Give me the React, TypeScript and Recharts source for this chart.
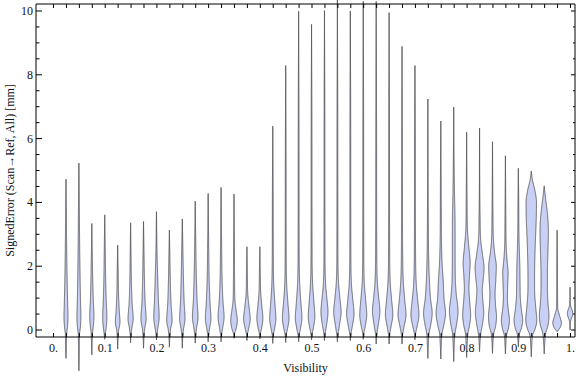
import React from 'react';
import { ComposedChart, Bar, XAxis, YAxis } from 'recharts';

const positions = [
  0.025, 0.05, 0.075, 0.1, 0.125, 0.15, 0.175, 0.2, 0.225, 0.25,
  0.275, 0.3, 0.325, 0.35, 0.375, 0.4, 0.425, 0.45, 0.475, 0.5,
  0.525, 0.55, 0.575, 0.6, 0.625, 0.65, 0.675, 0.7, 0.725, 0.75,
  0.775, 0.8, 0.825, 0.85, 0.875, 0.9, 0.925, 0.95, 0.975, 1.0,
];
const lows = [
  -0.89, -1.28, -0.78, -0.29, -0.6, -0.4, -0.57, -0.31, -0.54, -0.57,
  -0.41, -0.37, -0.37, -0.26, -0.33, -0.28, -0.42, -0.39, -0.37, -0.31,
  -0.33, -0.37, -0.33, -0.29, -0.44, -0.44, -0.44, -0.31, -0.89, -0.91,
  -0.99, -0.86, -0.68, -0.73, -0.75, -0.52, -0.84, -0.75, -0.05, 0.0,
];
const highs = [
  4.73, 5.23, 3.34, 3.61, 2.66, 3.36, 3.4, 3.71, 3.13, 3.48,
  4.04, 4.28, 4.47, 4.26, 2.61, 2.61, 6.39, 8.29, 9.99, 9.58,
  10.01, 10.4, 10.0, 10.3, 10.3, 9.95, 8.89, 8.29, 7.24, 6.55,
  6.99, 6.2, 6.33, 5.9, 5.46, 5.07, 4.98, 4.52, 3.13, 1.34,
];
const densityProfiles: number[][][] = [
  [[-0.6, 0.35], [-0.15, 0.6], [0.1, 1.5], [0.4, 2.0], [0.8, 1.7], [1.5, 1.2], [2.5, 0.7], [3.5, 0.4]],
  [[-0.8, 0.35], [-0.15, 0.6], [0.1, 1.5], [0.4, 2.0], [0.9, 1.6], [1.8, 1.1], [2.8, 0.7], [4.0, 0.4]],
  [[-0.4, 0.35], [-0.1, 0.7], [0.15, 1.6], [0.45, 2.1], [0.9, 1.5], [1.6, 0.9], [2.3, 0.5]],
  [[-0.12, 0.6], [0.15, 1.7], [0.4, 2.1], [0.9, 1.5], [1.6, 0.9], [2.5, 0.5]],
  [[-0.3, 0.35], [-0.05, 0.8], [0.25, 2.3], [0.6, 1.6], [1.2, 0.8], [1.9, 0.45]],
  [[-0.15, 0.4], [0.05, 1.2], [0.35, 2.6], [0.8, 1.6], [1.5, 0.8], [2.3, 0.45]],
  [[-0.25, 0.4], [0.0, 1.0], [0.35, 2.6], [0.8, 1.7], [1.6, 0.9], [2.4, 0.5]],
  [[-0.1, 0.6], [0.1, 1.6], [0.4, 2.7], [0.9, 2.0], [1.6, 1.3], [2.4, 0.6]],
  [[-0.25, 0.4], [0.0, 1.1], [0.3, 2.7], [0.8, 1.7], [1.6, 0.9], [2.3, 0.5]],
  [[-0.25, 0.4], [0.0, 1.1], [0.35, 2.7], [0.9, 1.8], [1.7, 1.1], [2.5, 0.6]],
  [[-0.15, 0.5], [0.05, 1.3], [0.4, 2.8], [0.9, 1.9], [1.7, 1.1], [2.6, 0.6]],
  [[-0.15, 0.5], [0.05, 1.4], [0.35, 2.8], [0.85, 1.9], [1.6, 1.0], [2.6, 0.55]],
  [[-0.15, 0.5], [0.05, 1.5], [0.4, 3.0], [0.9, 1.9], [1.6, 1.0], [2.7, 0.55]],
  [[-0.1, 0.7], [0.05, 2.2], [0.3, 3.3], [0.6, 2.2], [0.9, 1.0], [1.5, 0.6], [2.5, 0.45]],
  [[-0.12, 0.6], [0.05, 1.8], [0.35, 3.3], [0.7, 2.2], [1.1, 0.9], [1.8, 0.45]],
  [[-0.1, 0.6], [0.05, 1.7], [0.37, 3.0], [0.75, 2.0], [1.15, 0.9], [1.8, 0.45]],
  [[-0.15, 0.6], [0.05, 1.8], [0.35, 3.1], [0.8, 2.2], [1.4, 1.0], [2.5, 0.5], [4.0, 0.4]],
  [[-0.15, 0.6], [0.05, 1.9], [0.37, 3.3], [0.85, 2.2], [1.4, 1.0], [2.5, 0.5], [5.0, 0.4]],
  [[-0.15, 0.6], [0.05, 1.9], [0.38, 3.3], [0.85, 2.3], [1.5, 1.0], [2.6, 0.5], [6.0, 0.4]],
  [[-0.12, 0.6], [0.08, 1.9], [0.42, 3.3], [0.9, 2.3], [1.5, 1.0], [2.6, 0.5], [6.0, 0.4]],
  [[-0.12, 0.6], [0.1, 1.8], [0.57, 3.5], [1.0, 2.4], [1.4, 1.2], [2.5, 0.5], [6.0, 0.4]],
  [[-0.15, 0.6], [0.1, 1.8], [0.57, 3.7], [1.0, 2.5], [1.5, 1.1], [2.6, 0.5], [6.0, 0.4]],
  [[-0.12, 0.6], [0.1, 1.9], [0.5, 3.7], [0.95, 2.5], [1.45, 1.1], [2.6, 0.5], [6.0, 0.4]],
  [[-0.1, 0.6], [0.1, 1.9], [0.47, 3.5], [0.95, 2.4], [1.45, 1.1], [2.6, 0.5], [6.0, 0.4]],
  [[-0.15, 0.6], [0.1, 1.8], [0.6, 3.7], [1.05, 2.4], [1.5, 1.2], [2.6, 0.55], [6.0, 0.4]],
  [[-0.15, 0.6], [0.1, 1.9], [0.47, 3.7], [0.95, 2.5], [1.45, 1.2], [2.6, 0.55], [6.0, 0.4]],
  [[-0.15, 0.6], [0.1, 2.0], [0.47, 4.0], [0.95, 2.7], [1.5, 1.3], [2.6, 0.6], [5.5, 0.4]],
  [[-0.1, 0.7], [0.1, 2.1], [0.47, 4.0], [0.95, 2.7], [1.4, 1.4], [2.5, 0.6], [5.5, 0.4]],
  [[-0.5, 0.45], [-0.1, 1.2], [0.15, 2.8], [0.52, 4.3], [1.0, 2.6], [1.57, 1.5], [2.3, 0.8], [3.5, 0.45]],
  [[-0.5, 0.45], [-0.1, 1.3], [0.15, 3.0], [0.52, 4.7], [1.0, 3.2], [1.56, 2.4], [2.1, 1.3], [3.0, 0.6], [4.5, 0.4]],
  [[-0.55, 0.45], [-0.1, 1.3], [0.2, 3.0], [0.6, 4.3], [1.1, 2.6], [1.6, 1.6], [2.5, 1.4], [3.5, 1.3], [4.4, 0.7], [5.2, 0.4]],
  [[-0.5, 0.45], [-0.1, 1.3], [0.15, 2.9], [0.47, 4.0], [0.9, 3.0], [1.3, 2.3], [1.7, 2.8], [2.1, 3.5], [2.6, 2.2], [3.1, 0.9], [4.0, 0.45]],
  [[-0.4, 0.45], [-0.1, 1.3], [0.2, 3.0], [0.55, 4.2], [0.95, 3.2], [1.25, 2.7], [1.6, 3.7], [1.95, 4.5], [2.35, 3.0], [2.8, 1.2], [3.6, 0.5]],
  [[-0.4, 0.45], [-0.1, 1.3], [0.1, 3.0], [0.42, 4.0], [0.8, 3.0], [1.15, 2.6], [1.55, 3.3], [2.0, 3.8], [2.4, 2.2], [2.8, 1.0], [3.6, 0.5]],
  [[-0.45, 0.45], [-0.15, 1.2], [0.05, 3.0], [0.31, 4.0], [0.65, 2.8], [1.0, 2.0], [1.4, 2.3], [1.8, 2.7], [2.2, 1.6], [2.6, 0.8], [3.5, 0.45]],
  [[-0.3, 0.5], [-0.1, 1.3], [0.05, 3.0], [0.3, 4.3], [0.65, 3.0], [1.0, 2.0], [1.5, 1.7], [2.0, 1.5], [2.5, 1.0], [3.0, 0.6], [4.0, 0.4]],
  [[-0.5, 0.5], [-0.15, 1.5], [0.05, 4.0], [0.3, 5.5], [0.7, 4.5], [1.1, 3.5], [1.4, 3.3], [2.0, 3.4], [2.7, 4.0], [3.5, 5.0], [4.0, 5.2], [4.4, 3.5], [4.7, 1.2]],
  [[-0.45, 0.5], [-0.1, 1.5], [0.15, 3.8], [0.45, 4.8], [0.85, 3.8], [1.3, 3.2], [1.8, 3.2], [2.4, 3.7], [3.1, 4.2], [3.6, 3.4], [4.1, 1.5], [4.35, 0.6]],
  [[0.05, 2.5], [0.22, 4.3], [0.45, 2.5], [0.7, 0.6], [1.5, 0.4]],
  [[0.25, 0.4], [0.52, 2.7], [0.8, 0.4]],
];

const xTickValues = [
  0, 0.025, 0.05, 0.075, 0.1, 0.125, 0.15, 0.175, 0.2, 0.225, 0.25,
  0.275, 0.3, 0.325, 0.35, 0.375, 0.4, 0.425, 0.45, 0.475, 0.5,
  0.525, 0.55, 0.575, 0.6, 0.625, 0.65, 0.675, 0.7, 0.725, 0.75,
  0.775, 0.8, 0.825, 0.85, 0.875, 0.9, 0.925, 0.95, 0.975, 1.0,
];
const xLabelValues = [0, 0.1, 0.2, 0.3, 0.4, 0.5, 0.6, 0.7, 0.8, 0.9, 1.0];
const xLabelTexts = ['0.', '0.1', '0.2', '0.3', '0.4', '0.5', '0.6', '0.7', '0.8', '0.9', '1.'];
const yTickValues = [0, 0.5, 1, 1.5, 2, 2.5, 3, 3.5, 4, 4.5, 5, 5.5, 6, 6.5, 7, 7.5, 8, 8.5, 9, 9.5, 10];
const yLabelValues = [0, 2, 4, 6, 8, 10];
const yLabelTexts = ['0', '2', '4', '6', '8', '10'];

const X_DOMAIN: [number, number] = [-0.0339, 1.0087];
const Y_DOMAIN: [number, number] = [-0.219, 10.219];

const FONT = '"Liberation Serif", "Times New Roman", serif';
const FILL = '#c8d0f5';
const EDGE = '#3a3a3a';
const AXIS = '#000';
const DENSITY_SCALE = 1;

const data = positions.map((x, i) => ({
  x,
  range: [lows[i], highs[i]],
  profile: densityProfiles[i],
}));

function monotone(pts: number[][]) {
  const n = pts.length;
  const xs = pts.map((p) => p[0]);
  const ys = pts.map((p) => p[1]);
  const d: number[] = [];
  for (let k = 0; k < n - 1; k++) d.push((ys[k + 1] - ys[k]) / (xs[k + 1] - xs[k]));
  const m: number[] = new Array(n).fill(0);
  m[0] = d[0];
  m[n - 1] = d[n - 2];
  for (let k = 1; k < n - 1; k++) {
    m[k] = d[k - 1] * d[k] <= 0 ? 0 : (d[k - 1] + d[k]) / 2;
  }
  for (let k = 0; k < n - 1; k++) {
    if (d[k] === 0) {
      m[k] = 0;
      m[k + 1] = 0;
    } else {
      const a = m[k] / d[k];
      const b = m[k + 1] / d[k];
      const s = a * a + b * b;
      if (s > 9) {
        const t = 3 / Math.sqrt(s);
        m[k] = t * a * d[k];
        m[k + 1] = t * b * d[k];
      }
    }
  }
  return (x: number) => {
    let k = 0;
    while (k < n - 2 && x > xs[k + 1]) k++;
    const h = xs[k + 1] - xs[k];
    const t = Math.min(1, Math.max(0, (x - xs[k]) / h));
    const t2 = t * t;
    const t3 = t2 * t;
    return (
      (2 * t3 - 3 * t2 + 1) * ys[k] +
      (t3 - 2 * t2 + t) * h * m[k] +
      (-2 * t3 + 3 * t2) * ys[k + 1] +
      (t3 - t2) * h * m[k + 1]
    );
  };
}

function Violin(props: any) {
  const { x, y, width, height, payload } = props;
  if (!payload || height == null || !isFinite(height)) return null;
  const [lo, hi] = payload.range;
  const cx = x + width / 2;
  const top = Math.min(y, y + height);
  const h = Math.abs(height);
  const pxPerUnit = h / (hi - lo);
  const toPx = (v: number) => top + (hi - v) * pxPerUnit;
  const f = monotone([[lo, 0], ...payload.profile, [hi, 0]]);
  const n = Math.max(20, Math.ceil(h * 2));
  const right: string[] = [];
  const left: string[] = [];
  for (let i = 0; i <= n; i++) {
    const v = lo + ((hi - lo) * i) / n;
    const w = Math.max(0, f(v)) * DENSITY_SCALE;
    const py = toPx(v).toFixed(2);
    right.push(`${(cx + w).toFixed(2)},${py}`);
    left.push(`${(cx - w).toFixed(2)},${py}`);
  }
  left.reverse();
  const d = 'M' + right.join('L') + 'L' + left.join('L') + 'Z';
  return (
    <path d={d} fill={FILL} stroke={EDGE} strokeOpacity={0.8} strokeWidth={0.9} strokeLinejoin="round" />
  );
}

function labelFor(values: number[], texts: string[], v: number) {
  for (let i = 0; i < values.length; i++) {
    if (Math.abs(values[i] - v) < 1e-6) return texts[i];
  }
  return null;
}

function BottomTick(props: any) {
  const { x, y, payload } = props;
  const text = labelFor(xLabelValues, xLabelTexts, payload.value);
  return (
    <g>
      <line x1={x} x2={x} y1={y} y2={y - 4} stroke={AXIS} strokeWidth={1} />
      {text != null && (
        <text x={x} y={y + 15} textAnchor="middle" fontFamily={FONT} fontSize={12} fill="#111">
          {text}
        </text>
      )}
    </g>
  );
}

function TopTick(props: any) {
  const { x, y } = props;
  return <line x1={x} x2={x} y1={y} y2={y + 4} stroke={AXIS} strokeWidth={1} />;
}

function LeftTick(props: any) {
  const { x, y, payload } = props;
  const text = labelFor(yLabelValues, yLabelTexts, payload.value);
  const len = text != null ? 6 : 3.5;
  return (
    <g>
      <line x1={x} x2={x + len} y1={y} y2={y} stroke={AXIS} strokeWidth={1} />
      {text != null && (
        <text x={x - 3} y={y + 4} textAnchor="end" fontFamily={FONT} fontSize={12} fill="#111">
          {text}
        </text>
      )}
    </g>
  );
}

function RightTick(props: any) {
  const { x, y, payload } = props;
  const major = labelFor(yLabelValues, yLabelTexts, payload.value) != null;
  const len = major ? 4 : 2;
  return <line x1={x} x2={x - len} y1={y} y2={y} stroke={AXIS} strokeWidth={1} />;
}

function XTitle(props: any) {
  const vb = props.viewBox || {};
  const cx = (vb.x ?? 36) + (vb.width ?? 539) / 2;
  const by = (vb.y ?? 337) + (vb.height ?? 40) - 5;
  return (
    <text x={cx} y={by} textAnchor="middle" fontFamily={FONT} fontSize={12} fill="#111">
      Visibility
    </text>
  );
}

function YTitle(props: any) {
  const vb = props.viewBox || {};
  const cy = (vb.y ?? 4) + (vb.height ?? 333) / 2;
  const cx = (vb.x ?? 0) + 14;
  return (
    <text x={cx} y={cy} textAnchor="middle" fontFamily={FONT} fontSize={12} fill="#111"
      transform={`rotate(-90, ${cx}, ${cy})`}>
      SignedError (Scan→Ref, All) [mm]
    </text>
  );
}

export default function App() {
  return (
    <div style={{ position: 'absolute', left: 0, top: 0, width: 576, height: 377, background: '#fff' }}>
      <style>{`.recharts-bar, .recharts-bar-rectangles, .recharts-bar * { clip-path: none !important; }`}</style>
      <ComposedChart width={576} height={377} data={data} margin={{ top: 0, right: 0, bottom: 0, left: 0 }}>
        <XAxis dataKey="x" type="number" domain={X_DOMAIN} allowDataOverflow ticks={xTickValues} interval={0}
          height={40} tickSize={0} tickMargin={0} tickLine={false} tick={<BottomTick />}
          axisLine={{ stroke: AXIS, strokeWidth: 1 }} label={<XTitle />} />
        <XAxis xAxisId="top" dataKey="x" orientation="top" type="number" domain={X_DOMAIN} allowDataOverflow
          ticks={xTickValues} interval={0} height={4} tickSize={0} tickMargin={0} tickLine={false}
          tick={<TopTick />} axisLine={{ stroke: AXIS, strokeWidth: 1 }} />
        <YAxis type="number" domain={Y_DOMAIN} allowDataOverflow ticks={yTickValues} interval={0} width={36}
          tickSize={0} tickMargin={0} tickLine={false} tick={<LeftTick />}
          axisLine={{ stroke: AXIS, strokeWidth: 1 }} label={<YTitle />} />
        <YAxis yAxisId="right" orientation="right" type="number" domain={Y_DOMAIN} allowDataOverflow
          ticks={yTickValues} interval={0} width={1} tickSize={0} tickMargin={0} tickLine={false}
          tick={<RightTick />} axisLine={{ stroke: AXIS, strokeWidth: 1 }} />
        <Bar dataKey="range" barSize={12} isAnimationActive={false} shape={(p: any) => <Violin {...p} />} />
        <Bar xAxisId="top" yAxisId="right" dataKey="range" barSize={1} isAnimationActive={false}
          shape={() => <g />} />
      </ComposedChart>
    </div>
  );
}
